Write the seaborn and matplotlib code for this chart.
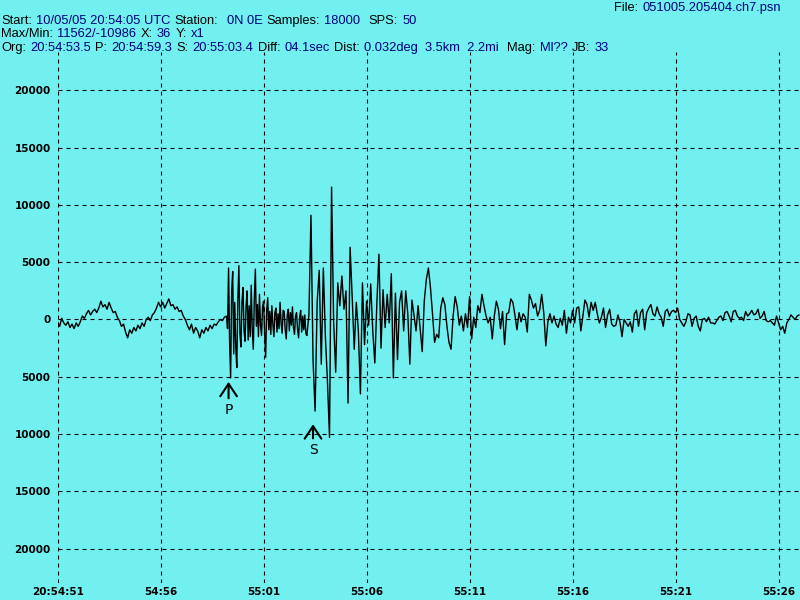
import numpy as np
import pandas as pd
import matplotlib
matplotlib.use("Agg")
import matplotlib.pyplot as plt
import seaborn as sns
from matplotlib.ticker import FuncFormatter

# trace values (counts), 20:54:51 = 0 s
# pre_event: 0.0 .. 8.1 s, every 0.1 s
pre_event = [
    -200, -600, 100, -300, -500, -200, -700, -400, -800, -300,
    -600, -200, 300, 100, 500, 800, 400, 700, 900, 600,
    1000, 1600, 1100, 1300, 900, 1500, 1000, 600, 700, 200,
    -100, -600, -400, -1100, -1600, -900, -1200, -700, -1000, -500,
    -800, -300, -600, 0, 200, -100, 400, 600, 1000, 1500,
    1100, 1500, 1000, 1400, 1800, 1200, 1300, 900, 1100, 700,
    800, 300, 0, -500, -900, -400, -1200, -700, -1000, -1600,
    -900, -1200, -700, -1000, -500, -800, -400, -500, -200, 0,
    -100, 200,
]
# p_wave: 8.20 .. 12.15 s, every 0.05 s (dense part)
p_wave = [
    300, -800, 4500, -2000, -5100, 2500, 4200, -3000, 1500, -2500,
    -4200, 1800, 4700, -1200, -2400, 1500, 2800, -1000, -1900, 1200,
    2500, -1800, 1200, -1500, 3000, -900, -2600, 1800, 4400, -600,
    1300, -1500, 2200, -500, -1400, 1100, 1600, -1200, -3300, 800,
    1900, -900, 700, -1300, 1200, -400, -1500, 600, 1000, -1100,
    500, -800, 1500, -300, -1200, 800, 700, -900, -1700, 400,
    900, -1000, 600, -500, 1100, -700, -1300, 300, 600, -900,
    -1600, 200, 800, -1100, 300, -900, 400, -1200, -1400, -500,
]
# s_wave: 12.2 .. 16.5 s, every 0.1 s
s_wave = [
    400, 9100, -3500, -8000, 1500, 4300, -3900, 4500, -1500, -5400,
    -10300, 11560, -200, -4600, 3200, 1200, 3800, 900, 2500, -7300,
    6300, 2000, -2600, 1500, -1000, -6500, 3200, -2200, 1600, -500,
    3100, -1000, -3800, 1500, 5700, -2500, 2600, -700, 2200, -300,
    4000, -5100, 2300, -3500,
]
# coda: 16.6 .. 26.7 s, every 0.1 s
coda = [
    1500, 2500, -1000, 2500, 500, -3900, 1700, 400, -1000, 1200,
    -800, -2800, 1600, 3500, 4500, 2800, 500, -2000, -1300, -1600,
    1000, 1900, 1300, -600, -2000, -2600, 300, 2000, 1100, -500,
    300, -1000, 500, -700, 2000, -1700, 200, -700, 1200, 600,
    2200, 1200, 300, -300, 200, -1700, 300, 1600, 900, -800,
    700, -2200, 500, 600, 1800, 1500, 400, -900, 600, -200,
    500, 200, -1100, 2200, 1700, 1000, 1400, 300, 800, 2200,
    600, -2300, -200, 500, -300, 300, -400, -700, 100, -500,
    800, -1200, 200, -300, 800, -300, 1000, 1100, -1000, 300,
    1700, 1300, 200, 1500, 800, 1500, 500, -300, 200, 1000,
    -700, 400,
]
# tail: 26.8 .. 36.0 s, every 0.1 s
tail = [
    900, -400, -600, -500, 400, -200, -1500, 0, -300, -600,
    -200, -1100, 500, 800, -600, 600, 900, -900, 600, 1000,
    1300, 500, 300, 1100, 500, 200, -600, 700, 900, 300,
    700, 800, 600, 1000, 0, -300, -600, -200, 500, 400,
    -600, 100, 300, -600, -1000, 0, 100, -200, 200, -300,
    -300, -400, -100, 200, 300, -100, 600, 700, 300, -200,
    700, 800, 300, 100, 200, -100, 700, 300, 500, 800,
    400, 500, 900, 100, 300, 700, -100, -200, -100, -300,
    -500, 300, -300, -900, -600, -1200, -300, 0, 400, 200,
    0, 300, 400,
]

# (segment, start second, step)
segments = [(pre_event, 0.0, 0.1), (p_wave, 8.2, 0.05), (s_wave, 12.2, 0.1),
            (coda, 16.6, 0.1), (tail, 26.8, 0.1)]

p_time = 8.3    # 20:54:59.3
s_time = 12.4   # 20:55:03.4

x_ticks = [0, 5, 10, 15, 20, 25, 30, 35]
x_labels = ["20:54:51", "54:56", "55:01", "55:06", "55:11", "55:16", "55:21", "55:26"]
y_ticks = [-20000, -15000, -10000, -5000, 0, 5000, 10000, 15000, 20000]

t_all = np.concatenate([t0 + np.arange(len(seg)) * dt for seg, t0, dt in segments])
c_all = np.concatenate([seg for seg, t0, dt in segments])
df = pd.DataFrame({"t": np.round(t_all, 3), "counts": c_all})

bg = "#72F0F0"
navy = "#000080"

sns.set_style("white")
plt.rcParams["font.family"] = ["DejaVu Sans"]

fig = plt.figure(figsize=(8, 6), dpi=100, facecolor=bg)
ax = fig.add_axes([57.6 / 800, 17 / 600, 742.4 / 800, 531 / 600])
ax.set_facecolor(bg)

sns.lineplot(data=df, x="t", y="counts", ax=ax, color="black", lw=1.0, errorbar=None)

ax.set_xlim(0, 36.04)
ax.set_ylim(-23013, 23362)
ax.set_xticks(x_ticks)
ax.set_xticklabels(x_labels)
ax.set_yticks(y_ticks)
ax.yaxis.set_major_formatter(FuncFormatter(lambda v, p: "%d" % abs(v)))
ax.tick_params(length=0, labelsize=7.5, colors="black")
ax.tick_params(axis="y", pad=5)
ax.tick_params(axis="x", pad=3)
for lab in ax.get_xticklabels() + ax.get_yticklabels():
    lab.set_fontweight("bold")
ax.set_xlabel("")
ax.set_ylabel("")
for sp in ax.spines.values():
    sp.set_visible(False)
ax.grid(True, color="black", linestyle=(0, (3.6, 3.6)), lw=0.8)
ax.set_axisbelow(True)

# P and S picks
for name, tt, tip, txt in [("P", p_time, -5450, -7900), ("S", s_time, -9150, -11400)]:
    ax.annotate(name, xy=(tt, tip), xytext=(tt, txt), ha="center", va="center",
                fontsize=10, color="black",
                arrowprops=dict(arrowstyle="->,head_length=0.6,head_width=0.4",
                                mutation_scale=15, color="black", lw=1.5,
                                shrinkA=1, shrinkB=0))

# header, pieces flow left to right: (text, colour, spaces after)
header = [
    (11, 614, [("File:", "black", 1), ("051005.205404.ch7.psn", navy, 0)]),
    (24, 1, [("Start:", "black", 1), ("10/05/05 20:54:05 UTC", navy, 1),
             ("Station:", "black", 2), ("0N 0E", navy, 1),
             ("Samples:", "black", 1), ("18000", navy, 2),
             ("SPS:", "black", 1), ("50", navy, 0)]),
    (37, 1, [("Max/Min:", "black", 1), ("11562/-10986", navy, 1),
             ("X:", "black", 1), ("36", navy, 1),
             ("Y:", "black", 1), ("x1", navy, 0)]),
    (51, 1, [("Org:", "black", 1), ("20:54:53.5", navy, 1),
             ("P:", "black", 1), ("20:54:59.3", navy, 1),
             ("S:", "black", 1), ("20:55:03.4", navy, 1),
             ("Diff:", "black", 1), ("04.1sec", navy, 1),
             ("Dist:", "black", 1), ("0.032deg  3.5km  2.2mi", navy, 2),
             ("Mag:", "black", 1), ("Ml??", navy, 1),
             ("JB:", "black", 1), ("33", navy, 0)]),
]
renderer = fig.canvas.get_renderer()
space_px = 4.2
for base, x0, parts in header:
    xp = x0
    for s, c, sp in parts:
        tx = fig.text(xp / 800, 1 - base / 600, s, color=c, fontsize=9.3,
                      family=["Liberation Sans"], ha="left", va="baseline")
        xp += tx.get_window_extent(renderer).width + sp * space_px

fig.savefig("out.png", dpi=100, facecolor=bg)
